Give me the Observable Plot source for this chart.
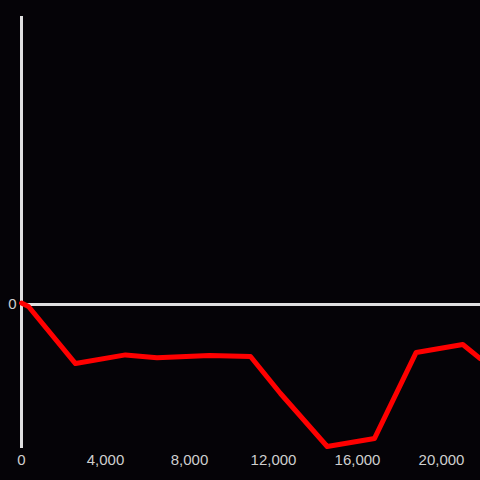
<!DOCTYPE html>
<html>
<head>
<meta charset="utf-8">
<script src="https://cdn.jsdelivr.net/npm/d3@7"></script>
<script src="https://cdn.jsdelivr.net/npm/@observablehq/plot@0.6"></script>
<style>
  html, body { margin: 0; padding: 0; background: #050307; }
</style>
</head>
<body>
<div id="chart"></div>
<script>
const xs = [0, 333, 2571, 4950, 6450, 8950, 10905, 12333, 14557, 16810, 18795, 21014, 21857];
const ys = [0.01, -0.014, -0.41, -0.35, -0.369, -0.354, -0.361, -0.618, -0.986, -0.93, -0.333, -0.278, -0.377];
const xTicks = [0, 4000, 8000, 12000, 16000, 20000];
const yTicks = [0];

const data = xs.map((x, i) => ({x, y: ys[i]}));

const chart = Plot.plot({
  width: 480,
  height: 480,
  marginLeft: 21,
  marginRight: 0,
  marginTop: 16,
  marginBottom: 32,
  style: {background: "#050307", color: "#cfcfcf", fontSize: "15px", fontFamily: "'Liberation Sans', Arial, sans-serif"},
  x: {domain: [0, 21857], label: null},
  y: {domain: [-1, 2], label: null},
  marks: [
    Plot.axisX({ticks: xTicks, tickFormat: d3.format(","), tickSize: 0, label: null, tickPadding: 6, fill: "#cfcfcf", fontSize: 15}),
    Plot.axisY({ticks: yTicks, tickFormat: d => String(d), tickSize: 0, label: null, tickPadding: 5, fill: "#cfcfcf", fontSize: 15}),
    Plot.ruleX([0], {stroke: "#e0e0e0", strokeWidth: 3}),
    Plot.ruleY(yTicks, {stroke: "#e0e0e0", strokeWidth: 3}),
    Plot.line(data, {x: "x", y: "y", stroke: "#ff0000", strokeWidth: 5})
  ]
});
document.getElementById("chart").appendChild(chart);
</script>
</body>
</html>
